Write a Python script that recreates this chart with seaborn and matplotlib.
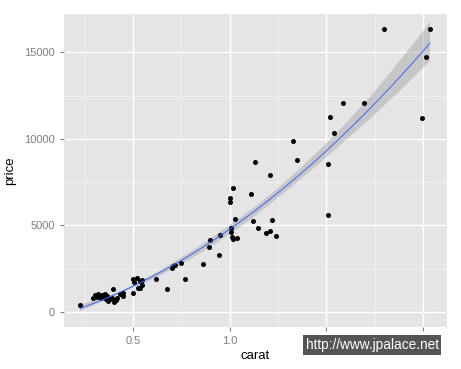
import numpy as np
import pandas as pd
import matplotlib
matplotlib.use("Agg")
import matplotlib.pyplot as plt
import seaborn as sns

carat = [0.226, 0.293, 0.303, 0.314, 0.319, 0.329, 0.334, 0.340, 0.350, 0.355,
         0.360, 0.365, 0.371, 0.381, 0.391, 0.397, 0.402, 0.412, 0.417, 0.433,
         0.448, 0.448, 0.500, 0.505, 0.521, 0.536, 0.500, 0.526, 0.536, 0.547,
         0.547, 0.619, 0.676, 0.702, 0.707, 0.717, 0.748, 0.769, 0.862, 0.893,
         0.898, 0.945, 0.950, 1.002, 1.002, 1.007, 1.007, 1.012, 1.017, 1.038,
         1.017, 1.028, 1.110, 1.121, 1.131, 1.147, 1.188, 1.209, 1.209, 1.219,
         1.240, 1.328, 1.348, 1.509, 1.509, 1.519, 1.540, 1.586, 1.695, 1.798,
         1.995, 2.016, 2.036]
price = [405, 809, 983, 867, 1040, 925, 809, 983, 867, 1040,
         751, 925, 636, 751, 809, 1329, 578, 694, 809, 1040,
         1098, 925, 1907, 1734, 1965, 1792, 1098, 1387, 1387, 1850,
         1561, 1907, 1329, 2543, 2659, 2717, 2832, 1907, 2774, 3757,
         4162, 3295, 4451, 6589, 6358, 4855, 4624, 4335, 4219, 4277,
         7167, 5375, 6820, 5260, 8670, 4855, 4566, 4682, 7919, 5318,
         4393, 9884, 8786, 8554, 5607, 11271, 10346, 12080, 12080, 16357,
         11213, 14739, 16357]

x_ticks = [0.5, 1.0, 1.5, 2.0]
x_tick_labels = ["0.5", "1.0", "1.5", "2.0"]
y_ticks = [0, 5000, 10000, 15000]
y_tick_labels = ["0", "5000", "10000", "15000"]

df = pd.DataFrame({"carat": carat, "price": price})

plt.rcParams["font.family"] = ["Liberation Sans", "DejaVu Sans"]

fig = plt.figure(figsize=(4.61, 3.69), dpi=100)
ax = fig.add_axes([64/461, 1-327/369, (447-64)/461, (327-14)/369])
ax.set_facecolor("#E5E5E5")

# minor grid
for xm in [0.25, 0.75, 1.25, 1.75]:
    ax.axvline(xm, color="#F2F2F2", lw=0.6, zorder=0.5)
for ym in [2500, 7500, 12500]:
    ax.axhline(ym, color="#F2F2F2", lw=0.6, zorder=0.5)
for xm in x_ticks:
    ax.axvline(xm, color="white", lw=1.0, zorder=0.6)
for ym in y_ticks:
    ax.axhline(ym, color="white", lw=1.0, zorder=0.6)

sns.scatterplot(data=df, x="carat", y="price", ax=ax, color="black",
                s=13, linewidth=0, zorder=3)
sns.regplot(data=df, x="carat", y="price", ax=ax, order=2, scatter=False,
            ci=68, seed=1, n_boot=500, truncate=True,
            line_kws={"color": "#3366FF", "lw": 0.7, "zorder": 4})
# restyle band
for coll in ax.collections[1:]:
    coll.set_facecolor("#999999")
    coll.set_alpha(0.4)
    coll.set_zorder(2)

ax.set_xlim(0.143, 2.124)
ax.set_ylim(-867, 17224)
ax.set_xticks(x_ticks)
ax.set_xticklabels(x_tick_labels)
ax.set_yticks(y_ticks)
ax.set_yticklabels(y_tick_labels)
ax.tick_params(axis="both", colors="#7F7F7F", labelcolor="#7F7F7F",
               labelsize=8, length=3, width=0.8, direction="out")
for s in ax.spines.values():
    s.set_visible(False)
ax.set_xlabel("carat", fontsize=9.5, color="black", labelpad=3)
ax.set_ylabel("price", fontsize=9.5, color="black", labelpad=6)

fig.text(372/461, 1-345/369, "http://www.jpalace.net", color="white",
         fontsize=9.8, ha="center", va="center",
         bbox=dict(boxstyle="square,pad=0.2", fc="#555555", ec="none"))

fig.savefig("out.png", dpi=100)
